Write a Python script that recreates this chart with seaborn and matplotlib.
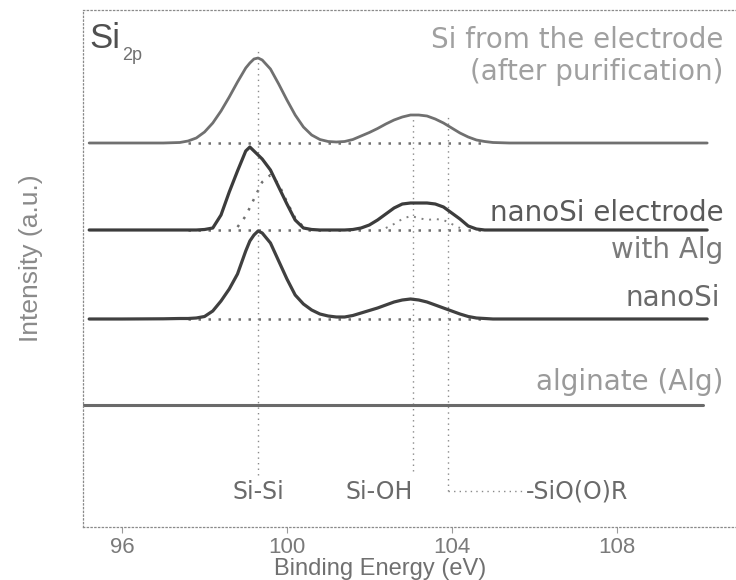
import matplotlib
matplotlib.use("Agg")
import matplotlib.pyplot as plt
import pandas as pd
import seaborn as sns

# ---------------- data ----------------
energy = [95.2, 96.0, 97.0, 97.4, 97.6, 97.8, 98.0, 98.2, 98.4, 98.6,
          98.8, 99.0, 99.1, 99.2, 99.3, 99.4, 99.6, 99.8, 100.0, 100.2,
          100.4, 100.6, 100.8, 101.0, 101.2, 101.4, 101.6, 101.8, 102.0, 102.2,
          102.4, 102.6, 102.8, 103.0, 103.2, 103.4, 103.6, 103.8, 104.0, 104.2,
          104.4, 104.6, 104.8, 105.0, 105.4, 106.0, 107.0, 108.0, 109.0, 110.2]

si_electrode = [0, 0, 0, 0.05, 0.2, 0.5, 1.1, 2.0, 3.2, 4.6,
                6.1, 7.5, 8.0, 8.4, 8.5, 8.3, 7.4, 5.9, 4.3, 2.8,
                1.6, 0.8, 0.35, 0.15, 0.1, 0.15, 0.35, 0.7, 1.05, 1.45,
                1.9, 2.3, 2.6, 2.8, 2.8, 2.7, 2.4, 2.0, 1.5, 1.0,
                0.6, 0.3, 0.15, 0.05, 0, 0, 0, 0, 0, 0]

nanosi_alg = [0, 0, 0, 0, 0, 0, 0.05, 0.2, 1.5, 3.8,
              5.9, 7.9, 8.3, 7.9, 7.5, 7.1, 6.0, 4.3, 2.6, 1.0,
              0.2, 0.05, 0, 0, 0, 0, 0.05, 0.2, 0.5, 1.0,
              1.6, 2.2, 2.6, 2.7, 2.7, 2.7, 2.6, 2.3, 1.7, 1.1,
              0.4, 0.1, 0, 0, 0, 0, 0, 0, 0, 0]

nanosi = [0, 0, 0.02, 0.05, 0.05, 0.1, 0.25, 0.8, 1.8, 3.0,
          4.5, 6.8, 7.8, 8.4, 8.8, 8.6, 7.6, 5.8, 4.0, 2.4,
          1.5, 0.9, 0.5, 0.3, 0.2, 0.2, 0.35, 0.6, 0.85, 1.1,
          1.4, 1.7, 1.9, 2.0, 1.9, 1.7, 1.4, 1.1, 0.8, 0.5,
          0.25, 0.1, 0.05, 0, 0, 0, 0, 0, 0, 0]

alginate_energy = [95.05, 110.1]
alginate = [0, 0]

# fitted components (dotted)
shoulder_energy = [98.8, 99.0, 99.2, 99.4, 99.6, 99.8, 100.0, 100.2, 100.4]
shoulder_values = [0.3, 1.4, 3.1, 4.8, 5.5, 4.6, 2.8, 1.2, 0.3]
hump_energy = [102.4, 102.6, 102.8, 103.0, 103.2, 103.4, 103.6, 103.8, 104.0, 104.2]
hump_values = [0.2, 0.6, 1.1, 1.4, 1.2, 1.0, 1.1, 1.0, 0.6, 0.2]
fit_range = [97.6, 104.8]

spectrum_names = ["Si from the electrode\n(after purification)",
                  "nanoSi electrode\nwith Alg", "nanoSi", "alginate (Alg)"]
offsets = [38.4, 29.7, 20.8, 12.2]

ref_energies = [99.3, 103.05, 103.9]
ref_tops = [47.6, 41.4, 41.0]
ref_bottoms = [5.2, 5.6, 3.6]
comp_labels = ["Si-Si", "Si-OH", "-SiO(O)R"]

xticks = [96, 100, 104, 108]

# ---------------- figure ----------------
sns.set_style("white")
plt.rcParams["font.family"] = ["Liberation Sans", "DejaVu Sans"]

W, H = 736, 580
fig = plt.figure(figsize=(W / 100, H / 100), dpi=100)
ax = fig.add_axes([83 / W, 1 - 527 / H, 1 - 83 / W, (527 - 10) / H])

frames = []
for name, vals, off in zip(spectrum_names[:3], [si_electrode, nanosi_alg, nanosi], offsets[:3]):
    frames.append(pd.DataFrame({"energy": energy,
                                "signal": [v + off for v in vals],
                                "spectrum": name}))
frames.append(pd.DataFrame({"energy": alginate_energy,
                            "signal": [v + offsets[3] for v in alginate],
                            "spectrum": spectrum_names[3]}))
df = pd.concat(frames, ignore_index=True)

line_colors = {spectrum_names[0]: "#707070", spectrum_names[1]: "#3c3c3c",
               spectrum_names[2]: "#404040", spectrum_names[3]: "#6a6a6a"}
line_widths = {spectrum_names[0]: 2.0, spectrum_names[1]: 2.3,
               spectrum_names[2]: 2.3, spectrum_names[3]: 2.2}

dot = (0, (1, 3))
common = dict(ax=ax, estimator=None, sort=False, errorbar=None)
# dotted baselines of the fits
for off in offsets[:3]:
    sns.lineplot(x=fit_range, y=[off, off], color="#707070",
                 linestyle=dot, linewidth=1.8, **common)

# fitted components
sns.lineplot(x=shoulder_energy, y=[v + offsets[1] for v in shoulder_values],
             color="#707070", linestyle=dot, linewidth=1.8, **common)
sns.lineplot(x=hump_energy, y=[v + offsets[1] for v in hump_values],
             color="#808080", linestyle=dot, linewidth=1.4, **common)

# reference lines
for e, t, b in zip(ref_energies, ref_tops, ref_bottoms):
    sns.lineplot(x=[e, e], y=[b, t], color="#8a8a8a",
                 linestyle=(0, (1, 3)), linewidth=1.0, **common)
sns.lineplot(x=[ref_energies[2], 105.75], y=[ref_bottoms[2], ref_bottoms[2]],
             color="#8a8a8a", linestyle=(0, (1, 3)), linewidth=1.0, **common)

for name in spectrum_names:
    sub = df[df["spectrum"] == name]
    sns.lineplot(data=sub, x="energy", y="signal", color=line_colors[name],
                 linewidth=line_widths[name], **common)

# spectrum labels
lab_font = ["DejaVu Sans"]
label_pos = [(110.6, 48.7, 45.5), (110.6, 31.4, 27.7), (110.5, 22.9, None), (110.6, 14.5, None)]
label_cols = [("#a0a0a0", "#a0a0a0"), ("#5a5a5a", "#7a7a7a"), ("#6a6a6a", None), ("#9a9a9a", None)]
for name, (x, y1, y2), (c1, c2) in zip(spectrum_names, label_pos, label_cols):
    parts = name.split("\n")
    ax.text(x, y1, parts[0], ha="right", va="center", fontsize=20, color=c1, family=lab_font)
    if y2 is not None:
        ax.text(x, y2, parts[1], ha="right", va="center", fontsize=20, color=c2, family=lab_font)

# component labels
ax.text(ref_energies[0], 3.5, comp_labels[0], ha="center", va="center", fontsize=17,
        color="#6a6a6a", family=lab_font)
ax.text(102.25, 3.5, comp_labels[1], ha="center", va="center", fontsize=17,
        color="#6a6a6a", family=lab_font)
ax.text(105.8, 3.5, comp_labels[2], ha="left", va="center", fontsize=17,
        color="#6a6a6a", family=lab_font)

# Si 2p
ax.text(95.2, 48.9, "Si", ha="left", va="center", fontsize=25, color="#505050")
ax.text(96.0, 47.2, "2p", ha="left", va="center", fontsize=13, color="#707070")

ax.set_xlim(95.05, 110.9)
ax.set_ylim(0, 51.7)
ax.set_xticks(xticks)
ax.set_xticklabels([str(t) for t in xticks])
ax.set_yticks([])
ax.tick_params(axis="x", direction="out", length=4, width=0.8, color="#9a9a9a",
               labelsize=16, labelcolor="#7a7a7a", pad=3, bottom=True)
ax.set_xlabel("")
fig.text(380 / W, 1 - 569 / H, "Binding Energy (eV)", ha="center", va="center",
         fontsize=17, color="#707070")
ax.set_ylabel("Intensity (a.u.)", fontsize=19, color="#8a8a8a")
ax.yaxis.set_label_coords(-0.062, 0.52)

for side in ["top", "bottom", "left"]:
    ax.spines[side].set_visible(True)
    ax.spines[side].set_linestyle((0, (1, 2)))
    ax.spines[side].set_color("#8a8a8a")
    ax.spines[side].set_linewidth(0.9)
ax.spines["right"].set_visible(False)
if ax.get_legend() is not None:
    ax.get_legend().remove()

fig.savefig("out.png", dpi=100)
